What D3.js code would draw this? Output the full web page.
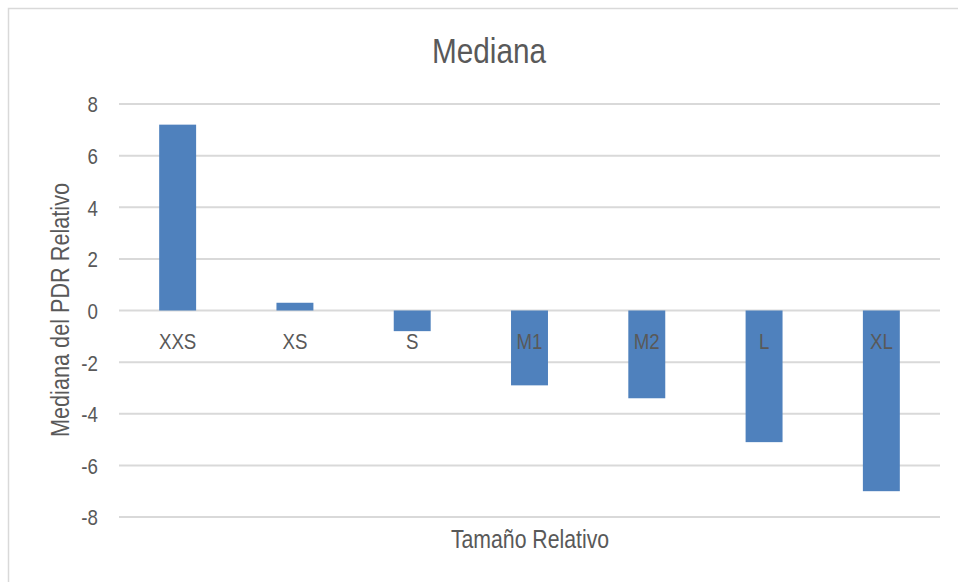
<!DOCTYPE html>
<html><head><meta charset="utf-8">
<script src="https://cdn.jsdelivr.net/npm/d3@7"></script>
<style>
html,body{margin:0;padding:0;background:#fff;}
svg{display:block;}
text{font-family:"Liberation Sans",Arial,sans-serif;fill:#595959;}
</style></head>
<body>
<svg id="chart" width="958" height="582"></svg>
<script>
const categories = ["XXS","XS","S","M1","M2","L","XL"];
const values = [7.2, 0.3, -0.8, -2.9, -3.4, -5.1, -7.0];
const yTicks = [-8,-6,-4,-2,0,2,4,6,8];
const title = "Mediana";
const xTitle = "Tamaño Relativo";
const yTitle = "Mediana del PDR Relativo";

const svg = d3.select("#chart");
const W = 958, H = 582;
const plot = {left:119, right:940, top:104, bottom:517};
const SX = 0.85; // condensed text

// outer border
svg.append("rect").attr("x",8.5).attr("y",8.5).attr("width",W+10).attr("height",H+10)
  .attr("fill","#fff").attr("stroke","#d9d9d9").attr("stroke-width",1.5);

const x = d3.scaleBand().domain(categories).range([plot.left, plot.right]).padding(0);
const y = d3.scaleLinear().domain([-8,8]).range([plot.bottom, plot.top]);

// gridlines
svg.append("g").selectAll("line").data(yTicks).join("line")
  .attr("x1",plot.left).attr("x2",plot.right)
  .attr("y1",d=>y(d)).attr("y2",d=>y(d))
  .attr("stroke","#d9d9d9").attr("stroke-width",2);

// y tick labels
const yAxis = d3.axisLeft(y).tickValues(yTicks).tickSize(0).tickPadding(0).tickFormat(d=>String(d));
const ga = svg.append("g").attr("transform",`translate(${98},0)`).call(yAxis);
ga.select(".domain").remove();
ga.attr("font-family",null).attr("font-size",null);
ga.selectAll("text").attr("x",0).attr("fill","#595959").attr("dy","0.36em")
  .style("font-size","22px").attr("transform",`scale(${SX},1)`);

// bars
const bw = x.bandwidth()*0.315;
svg.append("g").selectAll("rect").data(values).join("rect")
  .attr("x",(d,i)=>x(categories[i])+x.bandwidth()/2-bw/2)
  .attr("width",bw)
  .attr("y",d=>y(Math.max(0,d)))
  .attr("height",d=>Math.abs(y(d)-y(0)))
  .attr("fill","#4f81bd");

// category labels
svg.append("g").selectAll("text").data(categories).join("text")
  .attr("transform",d=>`translate(${x(d)+x.bandwidth()/2},${y(0)+38}) scale(${SX},1)`)
  .attr("text-anchor","middle")
  .style("font-size","22px")
  .text(d=>d);

// title
svg.append("text").attr("transform",`translate(489,63) scale(${SX},1)`).attr("text-anchor","middle")
  .style("font-size","35px").text(title);

// axis titles
svg.append("text").attr("transform",`translate(530,548) scale(${SX},1)`).attr("text-anchor","middle")
  .style("font-size","25px").text(xTitle);
svg.append("text").attr("transform",`translate(69,310) rotate(-90) scale(${SX},1)`).attr("text-anchor","middle")
  .style("font-size","25.5px").text(yTitle);
</script>
</body></html>
